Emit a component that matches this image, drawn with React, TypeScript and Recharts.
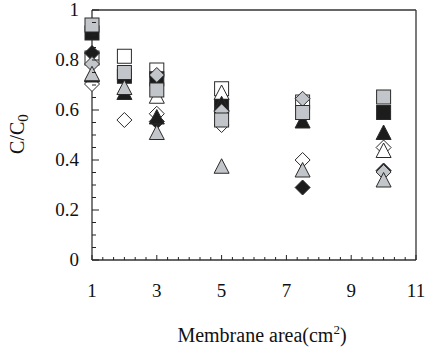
import { ScatterChart, Scatter, XAxis, YAxis, ReferenceLine, Label } from "recharts";

const areas = [1, 2, 3, 5, 7.5, 10];

// null = marker not visible in the figure (hidden behind others)
const openSquare = [0.808, 0.815, 0.76, 0.685, 0.632, null];
const openDiamond = [0.704, 0.56, 0.585, 0.54, 0.4, 0.45];
const openTriangle = [null, null, 0.655, 0.67, null, 0.438];
const blackSquare = [0.908, 0.735, 0.725, 0.615, null, 0.59];
const blackDiamond = [0.828, null, 0.554, null, 0.29, 0.358];
const blackTriangle = [0.74, 0.67, 0.572, 0.625, 0.556, 0.51];
const grayDiamond = [0.784, null, 0.74, 0.595, 0.645, 0.352];
const graySquare = [0.94, 0.75, 0.68, 0.56, 0.59, 0.652];
const grayTriangle = [0.745, 0.69, 0.51, 0.375, 0.36, 0.32];

const xLabels = [1, 3, 5, 7, 9, 11];
const yLabels = [0, 0.2, 0.4, 0.6, 0.8, 1];

const BLACK = "#1c1c1c";
const GRAY = "#c2c5c9";
const EDGE = "#2a2a2a";
const FONT = "Liberation Serif, DejaVu Serif, serif";

// minor ticks: every 1/3 on x, every 0.05 on y
const xTicks = Array.from({ length: 31 }, (_, i) => 1 + i / 3);
const yTicks = Array.from({ length: 21 }, (_, i) => i * 0.05);

const toPoints = (vals: (number | null)[]) =>
  areas.map((x, i) => ({ x, y: vals[i] })).filter((p) => p.y !== null);

const square = (fill: string) => (p: any) => (
  <rect x={p.cx - 7} y={p.cy - 7} width={14} height={14} fill={fill} stroke={EDGE} strokeWidth={1} />
);
const diamond = (fill: string) => (p: any) => (
  <polygon
    points={`${p.cx},${p.cy - 7.5} ${p.cx + 7.5},${p.cy} ${p.cx},${p.cy + 7.5} ${p.cx - 7.5},${p.cy}`}
    fill={fill}
    stroke={EDGE}
    strokeWidth={1}
  />
);
const triangle = (fill: string) => (p: any) => (
  <polygon
    points={`${p.cx},${p.cy - 7.5} ${p.cx + 7.5},${p.cy + 7} ${p.cx - 7.5},${p.cy + 7}`}
    fill={fill}
    stroke={EDGE}
    strokeWidth={1}
  />
);

const isNear = (a: number, b: number) => Math.abs(a - b) < 1e-6;

const XTick = (props: any) => {
  const { x, y, payload } = props;
  const v = payload.value;
  const major = xLabels.some((l) => isNear(l, v));
  return (
    <g>
      <line x1={x} y1={y} x2={x} y2={y - (major ? 5 : 3)} stroke="#222" strokeWidth={1} />
      {major && (
        <text x={x} y={y + 37} textAnchor="middle" fontSize={19} style={{ fontFamily: FONT }} fill="#111">
          {Math.round(v)}
        </text>
      )}
    </g>
  );
};

const YTick = (props: any) => {
  const { x, y, payload } = props;
  const v = payload.value;
  const major = yLabels.some((l) => isNear(l, v));
  return (
    <g>
      <line x1={x} y1={y} x2={x + (major ? 7 : 4)} y2={y} stroke="#222" strokeWidth={1} />
      {major && (
        <text x={x - 13} y={y + 6} textAnchor="end" fontSize={19} style={{ fontFamily: FONT }} fill="#111">
          {yLabels.find((l) => isNear(l, v))}
        </text>
      )}
    </g>
  );
};

export default function App() {
  return (
    <div style={{ position: "absolute", left: 0, top: 0, background: "#fff", fontFamily: FONT }}>
      <ScatterChart width={426} height={348} margin={{ top: 10, right: 10, bottom: 0, left: 0 }}>
        <XAxis
          type="number"
          dataKey="x"
          domain={[1, 11]}
          ticks={xTicks}
          interval={0}
          tickSize={0}
          tickMargin={0}
          tickLine={false}
          tick={<XTick />}
          height={88}
          axisLine={{ stroke: "#333", strokeWidth: 1.3 }}
        >
          <Label
            content={() => (
              <text x={262} y={342} textAnchor="middle" fontSize={20} style={{ fontFamily: FONT }} fill="#111">
                Membrane area(cm
                <tspan dy={-8} fontSize={13}>2</tspan>
                <tspan dy={8}>)</tspan>
              </text>
            )}
          />
        </XAxis>
        <YAxis
          type="number"
          dataKey="y"
          domain={[0, 1]}
          ticks={yTicks}
          interval={0}
          tickSize={0}
          tickMargin={0}
          tickLine={false}
          tick={<YTick />}
          width={92}
          axisLine={{ stroke: "#333", strokeWidth: 1.3 }}
        >
          <Label
            content={() => (
              <text
                x={24}
                y={134}
                transform="rotate(-90 24 134)"
                textAnchor="middle"
                fontSize={20}
                style={{ fontFamily: FONT }}
                fill="#111"
              >
                C/C
                <tspan dy={4} fontSize={15}>0</tspan>
              </text>
            )}
          />
        </YAxis>
        <ReferenceLine y={1} stroke="#333" strokeWidth={1.3} />
        <ReferenceLine x={11} stroke="#333" strokeWidth={1.3} />

        <Scatter data={toPoints(openSquare)} shape={square("#fff")} isAnimationActive={false} />
        <Scatter data={toPoints(openDiamond)} shape={diamond("#fff")} isAnimationActive={false} />
        <Scatter data={toPoints(openTriangle)} shape={triangle("#fff")} isAnimationActive={false} />
        <Scatter data={toPoints(blackSquare)} shape={square(BLACK)} isAnimationActive={false} />
        <Scatter data={toPoints(blackDiamond)} shape={diamond(BLACK)} isAnimationActive={false} />
        <Scatter data={toPoints(blackTriangle)} shape={triangle(BLACK)} isAnimationActive={false} />
        <Scatter data={toPoints(grayDiamond)} shape={diamond(GRAY)} isAnimationActive={false} />
        <Scatter data={toPoints(graySquare)} shape={square(GRAY)} isAnimationActive={false} />
        <Scatter data={toPoints(grayTriangle)} shape={triangle(GRAY)} isAnimationActive={false} />
      </ScatterChart>
    </div>
  );
}
